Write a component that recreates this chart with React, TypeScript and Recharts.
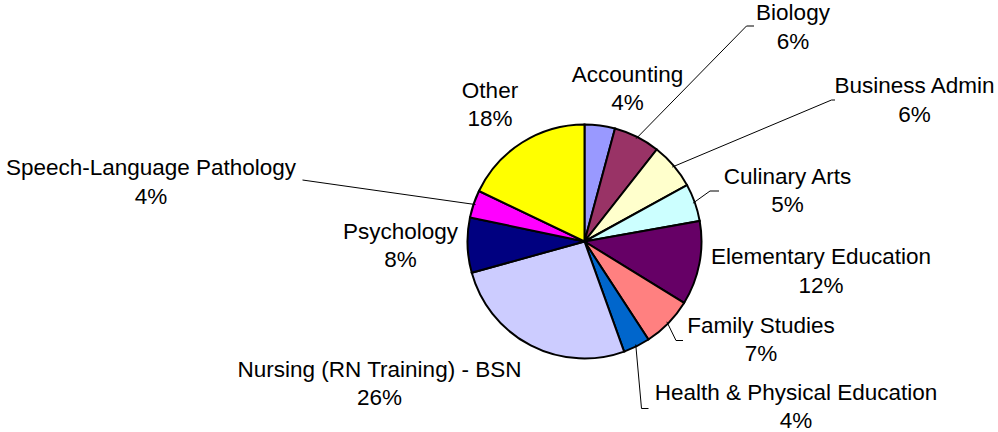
import { PieChart, Pie, Cell } from "recharts"

const majors = [
  "Accounting",
  "Biology",
  "Business Admin",
  "Culinary Arts",
  "Elementary Education",
  "Family Studies",
  "Health & Physical Education",
  "Nursing (RN Training) - BSN",
  "Psychology",
  "Speech-Language Pathology",
  "Other",
]

const shares = [4.2, 6.4, 6.4, 5.2, 11.6, 7.0, 3.7, 26.2, 7.6, 3.8, 17.9]

const colors = [
  "#9999FF",
  "#993366",
  "#FFFFCC",
  "#CCFFFF",
  "#660066",
  "#FF8080",
  "#0066CC",
  "#CCCCFF",
  "#000080",
  "#FF00FF",
  "#FFFF00",
]

// label anchors relative to the pie centre: [dx, dy] of the first baseline,
// optional leader elbow and end points
const labelLayout: { at: [number, number]; leader?: [number, number, number, number] }[] = [
  { at: [43, -160] },
  { at: [208.5, -221.5], leader: [162, -215.5, 169.5, -215.5] },
  { at: [330, -148.5], leader: [247, -141.5, 250.5, -141.5] },
  { at: [203, -58], leader: [125.5, -50.5, 134.5, -50.5] },
  { at: [236.5, 22.5] },
  { at: [176.5, 91], leader: [91.5, 99, 98.5, 99] },
  { at: [211.5, 158], leader: [57, 167, 64, 167] },
  { at: [-205, 135] },
  { at: [-184, -3] },
  { at: [-433.5, -66.5], leader: [-282, -61.5, -282, -61.5] },
  { at: [-94.5, -144] },
]

const data = majors.map((name, i) => ({ name, value: shares[i] }))

const RAD = Math.PI / 180

function renderLabel(props: any) {
  const { cx, cy, midAngle, outerRadius, index, percent } = props
  const layout = labelLayout[index]
  const x = cx + layout.at[0]
  const y = cy + layout.at[1]
  let line = null
  if (layout.leader) {
    const [ex, ey, fx, fy] = layout.leader
    const sx = cx + (outerRadius - 2) * Math.cos(midAngle * RAD)
    const sy = cy - (outerRadius - 2) * Math.sin(midAngle * RAD)
    line = (
      <path
        d={`M${sx},${sy}L${cx + ex},${cy + ey}L${cx + fx},${cy + fy}`}
        stroke="#000"
        strokeWidth={1}
        fill="none"
      />
    )
  }
  return (
    <g key={`lbl-${index}`}>
      {line}
      <text
        x={x}
        y={y}
        textAnchor="middle"
        fill="#000"
        fontSize={22.5}
        fontFamily="'Liberation Sans', Arial, sans-serif"
      >
        <tspan x={x} y={y}>{majors[index]}</tspan>
        <tspan x={x} y={y + 28.5}>{`${Math.round(percent * 100)}%`}</tspan>
      </text>
    </g>
  )
}

export default function App() {
  return (
    <div style={{ position: "absolute", left: 0, top: 0, background: "#fff" }}>
      <PieChart width={998} height={432} margin={{ top: 0, right: 0, bottom: 0, left: 0 }}>
        <Pie
          data={data}
          dataKey="value"
          nameKey="name"
          cx={584.5}
          cy={241.5}
          outerRadius={117}
          startAngle={90}
          endAngle={-270}
          stroke="#000"
          strokeWidth={2}
          label={renderLabel}
          labelLine={false}
          isAnimationActive={false}
        >
          {data.map((d, i) => (
            <Cell key={d.name} fill={colors[i]} stroke="#000" strokeWidth={2} />
          ))}
        </Pie>
      </PieChart>
    </div>
  )
}
